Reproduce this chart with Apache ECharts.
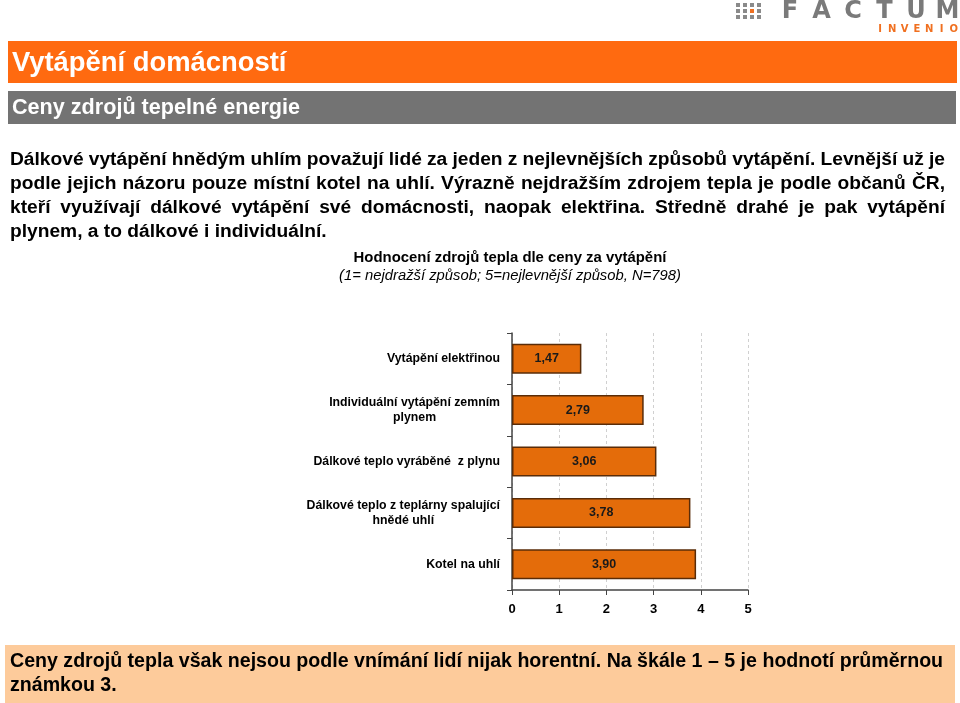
<!DOCTYPE html>
<html><head><meta charset="utf-8">
<script src="https://cdn.jsdelivr.net/npm/echarts@6/dist/echarts.min.js"></script>
<style>html,body{margin:0;padding:0;background:#fff}#c{width:960px;height:703px}</style>
</head><body><div id="c"></div>
<script>
// ---- data ----
const categories = ['Vytápění elektřinou', 'Individuální vytápění zemním\nplynem', 'Dálkové teplo vyráběné  z plynu', 'Dálkové teplo z teplárny spalující\nhnědé uhlí', 'Kotel na uhlí'];
const values = [1.47, 2.79, 3.06, 3.78, 3.90];
const xTicks = [0, 1, 2, 3, 4, 5];
const pageTitle = 'Vytápění domácností';
const pageSubtitle = 'Ceny zdrojů tepelné energie';
const paragraphLines = [
  'Dálkové vytápění hnědým uhlím považují lidé za jeden z nejlevnějších způsobů vytápění. Levnější už je',
  'podle jejich názoru pouze místní kotel na uhlí. Výrazně nejdražším zdrojem tepla je podle občanů ČR,',
  'kteří využívají dálkové vytápění své domácnosti, naopak elektřina. Středně drahé je pak vytápění',
  'plynem, a to dálkové i individuální.'
];
const chartTitle = 'Hodnocení zdrojů tepla dle ceny za vytápění';
const chartSubtitle = '(1= nejdražší způsob; 5=nejlevnější způsob, N=798)';
const footerLines = [
  'Ceny zdrojů tepla však nejsou podle vnímání lidí nijak horentní. Na škále 1 – 5 je hodnotí průměrnou',
  'známkou 3.'
];

// ---- helpers ----
const mctx = document.createElement('canvas').getContext('2d');
function wordLine(text, x0, x1, y, font, justify, fill) {
  const words = text.split(' ');
  mctx.font = font;
  const widths = words.map(w => mctx.measureText(w).width);
  const total = widths.reduce((a, b) => a + b, 0);
  const gap = justify && words.length > 1 ? (x1 - x0 - total) / (words.length - 1) : mctx.measureText(' ').width;
  let x = x0; const els = [];
  words.forEach((w, i) => {
    els.push({ type: 'text', x: x, y: y, style: { text: w, font: font, fill: fill, textVerticalAlign: 'middle', verticalAlign: 'middle' } });
    x += widths[i] + gap;
  });
  return els;
}

const sans = '"Liberation Sans",Arial,sans-serif';

const graphics = [];
// logo dots
for (let r = 0; r < 3; r++) for (let c = 0; c < 4; c++) {
  graphics.push({ type: 'rect', shape: { x: 736 + c * 7, y: 3 + r * 6, width: 4, height: 4 },
    style: { fill: (r === 1 && c === 2) ? '#F07020' : '#8a8a8a' } });
}
'FACTUM'.split('').forEach((ch, i) => {
  graphics.push({ type: 'text', x: 790 + i * 31.5, y: 12, style: { text: ch, font: 'bold 24px "DejaVu Sans",sans-serif', fill: '#7a7a7a', textAlign: 'center', textVerticalAlign: 'middle', verticalAlign: 'middle' } });
});
'INVENIO'.split('').forEach((ch, i) => {
  graphics.push({ type: 'text', x: 880 + i * 12.3, y: 29, style: { text: ch, font: 'bold 10px "DejaVu Sans",sans-serif', fill: '#F07020', textAlign: 'center', textVerticalAlign: 'middle', verticalAlign: 'middle' } });
});
// banners
graphics.push({ type: 'rect', shape: { x: 8, y: 41, width: 949, height: 42 }, style: { fill: '#FF6A10' } });
graphics.push({ type: 'text', x: 12, y: 63, style: { text: pageTitle, font: 'bold 27.4px ' + sans, fill: '#fff', textVerticalAlign: 'middle', verticalAlign: 'middle' } });
graphics.push({ type: 'rect', shape: { x: 8, y: 91, width: 948, height: 33 }, style: { fill: '#737373' } });
graphics.push({ type: 'text', x: 12, y: 108, style: { text: pageSubtitle, font: 'bold 21.6px ' + sans, fill: '#fff', textVerticalAlign: 'middle', verticalAlign: 'middle' } });
// paragraph
const pFont = 'bold 19.2px ' + sans;
const pY = [160, 184, 208, 232];
paragraphLines.forEach((l, i) => {
  graphics.push(...wordLine(l, 10, 945, pY[i], pFont, i < 3, '#000'));
});
// chart titles
graphics.push({ type: 'text', x: 510, y: 258, style: { text: chartTitle, font: 'bold 14.9px ' + sans, fill: '#000', textAlign: 'center', textVerticalAlign: 'middle', verticalAlign: 'middle' } });
graphics.push({ type: 'text', x: 510, y: 276, style: { text: chartSubtitle, font: 'italic 14.8px ' + sans, fill: '#000', textAlign: 'center', textVerticalAlign: 'middle', verticalAlign: 'middle' } });
// footer
graphics.push({ type: 'rect', shape: { x: 5, y: 645, width: 950, height: 58 }, style: { fill: '#FDCB9B' } });
graphics.push({ type: 'text', x: 10, y: 662, style: { text: footerLines[0], font: 'bold 19.6px ' + sans, fill: '#000', textVerticalAlign: 'middle', verticalAlign: 'middle' } });
graphics.push({ type: 'text', x: 10, y: 686, style: { text: footerLines[1], font: 'bold 19.6px ' + sans, fill: '#000', textVerticalAlign: 'middle', verticalAlign: 'middle' } });

const chart = echarts.init(document.getElementById('c'), null, { renderer: 'canvas' });
chart.setOption({
  animation: false,
  backgroundColor: '#fff',
  grid: { left: 512, right: 212, top: 333, bottom: 113, containLabel: false },
  xAxis: {
    type: 'value', min: xTicks[0], max: xTicks[xTicks.length - 1], interval: 1,
    axisLine: { show: true, lineStyle: { color: '#444', width: 1.5 } },
    axisTick: { show: true, length: 5, lineStyle: { color: '#444' } },
    splitLine: { show: true, lineStyle: { color: '#d0d0d0', type: [3, 3] } },
    axisLabel: { color: '#000', fontWeight: 'bold', fontSize: 13, fontFamily: sans, margin: 13 }
  },
  yAxis: {
    type: 'category', inverse: true, data: categories,
    axisLine: { show: true, lineStyle: { color: '#444', width: 1.5 } },
    axisTick: { show: true, length: 5, lineStyle: { color: '#444' } },
    splitLine: { show: false },
    axisLabel: {
      margin: 12, color: '#000',
      formatter: v => v.split('\n').map(l => '{c|' + l + '}').join('\n'),
      rich: { c: { align: 'center', fontWeight: 'bold', fontSize: 12.3, fontFamily: sans, lineHeight: 15, color: '#000' } }
    }
  },
  series: [{
    type: 'bar', data: values, barWidth: 30,
    itemStyle: { color: '#E46C0A', borderColor: '#5A2C08', borderWidth: 1.5 },
    label: { show: true, position: 'inside', color: '#1a1a1a', fontWeight: 'bold', fontSize: 12.5, fontFamily: sans,
      formatter: p => p.value.toFixed(2).replace('.', ',') }
  }],
  graphic: graphics
});
</script></body></html>
